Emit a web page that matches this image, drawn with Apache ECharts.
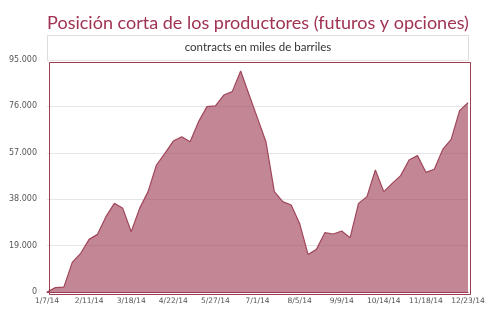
<!DOCTYPE html>
<html>
<head>
<meta charset="utf-8">
<script src="https://cdn.jsdelivr.net/npm/echarts@6/dist/echarts.min.js"></script>
<style>
  html, body { margin: 0; padding: 0; background: #ffffff; }
  #chart { width: 499px; height: 327px; }
</style>
</head>
<body>
<div id="chart"></div>
<script>
// Weekly report dates, 1/7/14 .. 12/23/14
const weeks = [];
(function () {
  const d = new Date(2014, 0, 7);
  for (let i = 0; i < 51; i++) {
    weeks.push((d.getMonth() + 1) + '/' + d.getDate() + '/14');
    d.setDate(d.getDate() + 7);
  }
})();

// Producer short position, contracts
const shortPosition = [
  0, 1800, 2000, 12150, 15850, 21550, 23600, 30850, 36300, 34250,
  24700, 34250, 41100, 52000, 56800, 61800, 63600, 61550, 69750, 75900,
  76200, 80650, 82050, 90500, 80800, 71200, 61550, 41100, 37000, 35600,
  28100, 15400, 17450, 24300, 23750, 25000, 22250, 36300, 39050, 49950,
  41100, 44500, 47650, 54050, 55850, 49000, 50250, 58400, 62500, 74250,
  77500
];

const yTicks = { min: 0, max: 95000, interval: 19000 };

const maroon = '#9c3c52';
const plot = { left: 47, top: 60, width: 421, height: 232 };
const chart = echarts.init(document.getElementById('chart'), null, { renderer: 'canvas' });

chart.setOption({
  animation: false,
  backgroundColor: '#ffffff',
  textStyle: { fontFamily: 'Lato' },
  title: {
    text: 'Posición corta de los productores (futuros y opciones)',
    left: 253, top: 9, textAlign: 'center',
    textStyle: { color: '#a03352', fontSize: 18, fontWeight: 'normal', fontFamily: 'Lato' }
  },
  graphic: [
    {
      type: 'rect', left: plot.left, top: 35, z: 0,
      shape: { width: plot.width, height: 25 },
      style: { fill: '#ffffff', stroke: '#dddddd', lineWidth: 1 }
    },
    {
      type: 'text', x: 258, y: 41, z: 1,
      style: { text: 'contracts en miles de barriles', fill: '#333333', font: '11.5px Lato', align: 'center' }
    },
    {
      // plot frame drawn above the grid lines
      type: 'rect', left: plot.left, top: plot.top, z: 100, silent: true,
      shape: { width: plot.width, height: plot.height },
      style: { fill: 'none', stroke: maroon, lineWidth: 1 }
    }
  ],
  grid: { left: plot.left, right: 499 - plot.left - plot.width, top: plot.top, bottom: 327 - plot.top - plot.height },
  xAxis: {
    type: 'category',
    data: weeks,
    boundaryGap: false,
    axisLine: { show: true, lineStyle: { color: maroon } },
    axisTick: { show: false },
    axisLabel: { interval: 4, color: '#555555', fontSize: 7.5, fontFamily: 'DejaVu Sans', margin: 5, showMaxLabel: true },
    splitLine: { show: false }
  },
  yAxis: {
    type: 'value',
    min: yTicks.min, max: yTicks.max, interval: yTicks.interval,
    axisLine: { show: false },
    axisTick: { show: false },
    axisLabel: {
      color: '#555555', fontSize: 8, fontFamily: 'DejaVu Sans', margin: 10,
      formatter: v => v === 0 ? '0' : v.toLocaleString('de-DE')
    },
    splitLine: { show: true, lineStyle: { color: '#e6e6e6', width: 1 } }
  },
  series: [{
    type: 'line',
    data: shortPosition,
    symbol: 'none',
    lineStyle: { color: '#a0465a', width: 1.2 },
    areaStyle: { color: maroon, opacity: 0.62 },
    z: 2
  }]
});
</script>
</body>
</html>
